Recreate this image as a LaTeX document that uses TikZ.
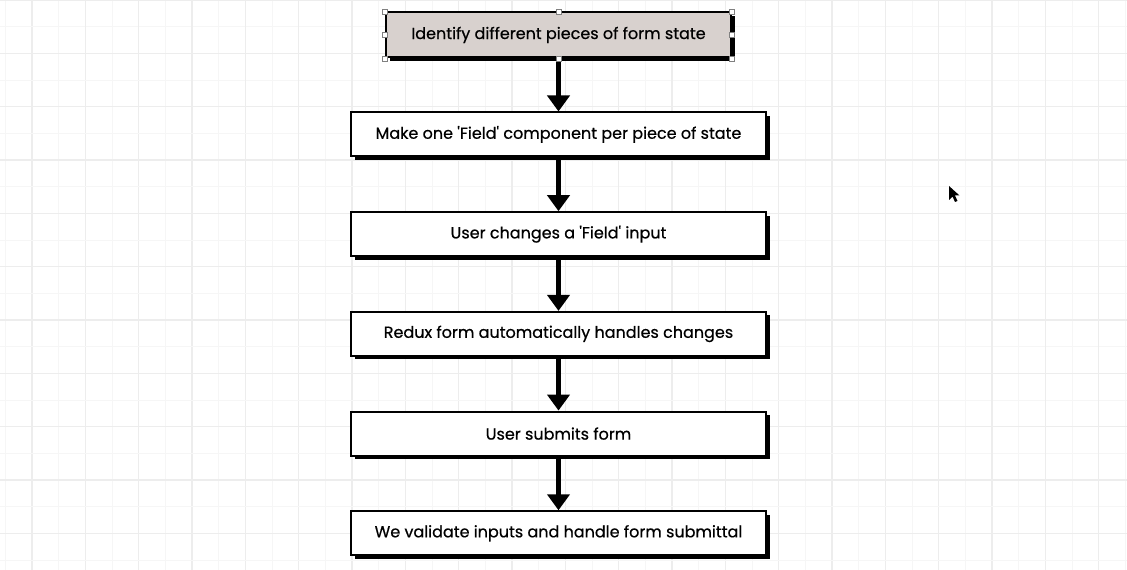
\documentclass[tikz,border=0pt]{standalone}
\usepackage{fontspec}
\setmainfont{Poppins}[UprightFeatures={FakeBold=0.6}]
\usetikzlibrary{positioning, arrows.meta, shadows}
\definecolor{gridminor}{RGB}{246,246,246}
\definecolor{gridmajor}{RGB}{237,237,237}
\definecolor{startfill}{RGB}{216,209,206}

\begin{document}
\begin{tikzpicture}[x=1pt, y=1pt,
  stepbox/.style={rectangle, draw, line width=2pt, fill=white, minimum width=415pt, minimum height=44pt,
    font=\fontsize{16}{19}\selectfont,
    drop shadow={shadow xshift=3.5pt, shadow yshift=-3.5pt, fill=black, opacity=1}},
  flow/.style={line width=5pt, -{Triangle[length=16pt, width=22pt]}},
  handle/.style={draw=gray, fill=white, line width=0.6pt, minimum size=5pt, inner sep=0pt}]
\useasboundingbox (0,0) rectangle (1127,570);

% background grid
\begin{scope}
\clip (0,0) rectangle (1127,570);
\fill[white] (0,0) rectangle (1127,570);
\foreach \i in {0,...,42} {
  \draw[gridminor, line width=1pt] ({5.33+26.67*\i},0) -- ++(0,570);
}
\foreach \i in {0,...,21} {
  \draw[gridminor, line width=1pt] (0,{570-26.67*\i}) -- ++(1127,0);
  \draw[gridmajor, line width=1.3pt] ({32+53.33*\i},0) -- ++(0,570);
}
\foreach \i in {0,...,10} {
  \draw[gridmajor, line width=1.3pt] (0,{570-53.33*\i}) -- ++(1127,0);
}
\end{scope}

% flow steps
\node[stepbox, fill=startfill, minimum width=345pt, minimum height=45pt] (identify) at (558.5,535)
  {Identify different pieces of form state};
\node[stepbox] (field) [below=53pt of identify] {Make one \textquotesingle Field\textquotesingle{} component per piece of state};
\node[stepbox] (change) [below=53.7pt of field] {User changes a \textquotesingle Field\textquotesingle{} input};
\node[stepbox] (redux) [below=53.7pt of change] {Redux form automatically handles changes};
\node[stepbox] (submit) [below=53.7pt of redux] {User submits form};
\node[stepbox] (validate) [below=53.7pt of submit] {We validate inputs and handle form submittal};

\draw[flow] (identify) -- (field);
\draw[flow] (field) -- (change);
\draw[flow] (change) -- (redux);
\draw[flow] (redux) -- (submit);
\draw[flow] (submit) -- (validate);

% selection handles
\foreach \p in {north west, north, north east, west, east, south west, south, south east}
  \node[handle] at (identify.\p) {};

% mouse pointer
\fill[black] (949,384) -- (949,370) -- (952.5,373.5) -- (955,368) -- (957.5,369) -- (955,374.5) -- (959.5,374.5) -- cycle;
\end{tikzpicture}
\end{document}
